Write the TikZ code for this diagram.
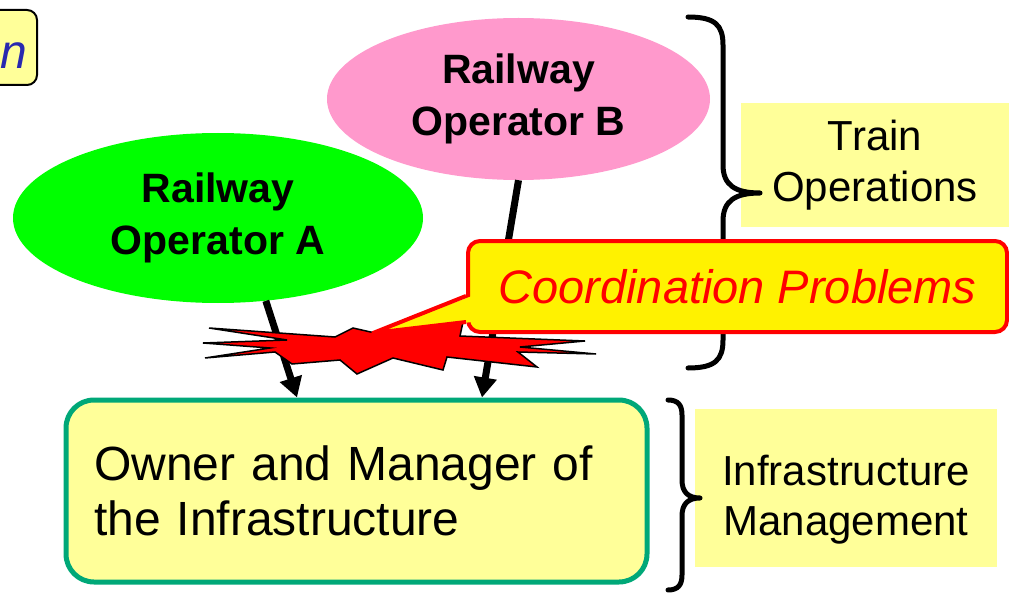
\documentclass[tikz,border=0pt]{standalone}
\usepackage{fontspec}
\setmainfont{Liberation Sans}
\usetikzlibrary{shapes.geometric,arrows.meta}
\definecolor{paleyellow}{RGB}{255,255,153}
\definecolor{opgreen}{RGB}{0,255,0}
\definecolor{oppink}{RGB}{255,153,204}
\definecolor{borderteal}{RGB}{0,168,120}
\definecolor{inkblue}{RGB}{40,40,175}
\tikzset{
  operator/.style={ellipse, draw=none, inner sep=0pt, align=center,
    font=\bfseries\fontsize{41}{52}\selectfont},
  feed/.style={line width=7pt, -{Triangle[length=20pt,width=22pt]}},
  bracket/.style={line width=5pt, line cap=round, line join=round},
  areabox/.style={fill=paleyellow, inner sep=0pt, align=center,
    font=\fontsize{42}{51}\selectfont},
}
\begin{document}
\begin{tikzpicture}[x=1pt, y=-1pt]
\useasboundingbox (0,0) rectangle (1009,596);

% box cut by the left margin
\draw[line width=2pt, fill=paleyellow, rounded corners=10pt] (-30,10) rectangle (37,85);
\node[font=\itshape\fontsize{48}{58}\selectfont, text=inkblue, anchor=base east, inner sep=0pt] (tag) at (27,69) {n};

% the two operators
\node[operator, fill=opgreen, minimum width=410pt, minimum height=170pt] (opA) at (218,218) {Railway\\Operator A};
\node[operator, fill=oppink, minimum width=383pt, minimum height=162pt] (opB) at (518.5,99) {Railway\\Operator B};

% infrastructure manager
\node[fill=paleyellow, draw=borderteal, line width=5pt, rounded corners=28pt,
      minimum width=581pt, minimum height=182pt, inner xsep=27pt, text width=525pt,
      align=left, font=\fontsize{48}{55}\selectfont] (owner) at (356.5,491)
      {Owner and Manager of\\the Infrastructure};

% access of both operators to the network
\draw[feed] (opA.-60) -- (297,0 |- owner.north);
\draw[feed] (opB.south) -- (482,0 |- owner.north);

% area labels
\node[areabox, minimum width=268pt, minimum height=124pt] (train) at (875,165) {Train\\Operations};
\node[areabox, minimum width=302pt, minimum height=158pt] (infra) at (846,488) {};
\node[font=\fontsize{42}{50}\selectfont, align=center, inner sep=0pt] (infratext) at ([yshift=-12pt]infra.center) {Infrastructure\\Management};

% braces
\draw[bracket] (688,17) .. controls (715,17) and (723,25) .. (723,45) -- (723,165)
  .. controls (723,185) and (735,193) .. (760,193)
  .. controls (735,193) and (723,201) .. (723,221) -- (723,340)
  .. controls (723,360) and (715,368) .. (688,368);
\draw[bracket] (668,400) .. controls (678,400) and (682,405) .. (682,415) -- (682,480)
  .. controls (682,492) and (688,498) .. (700,498)
  .. controls (688,498) and (682,504) .. (682,516) -- (682,575)
  .. controls (682,585) and (678,590) .. (668,590);

% conflict burst
\draw[fill=red, line width=1.5pt, line join=miter]
  (209,328) -- (335,337) -- (353,328) -- (375,333) -- (463,322) -- (460,336)
  -- (585,341) -- (520,347) -- (596,354) -- (518,352) -- (537,367) -- (447,357)
  -- (443,370) -- (393,358) -- (357,374) -- (340,360) -- (292,364) -- (275,352)
  -- (205,358) -- (270,348) -- (203,343) -- (287,340) -- cycle;

% callout
\node[fill=yellow, draw=red, line width=4pt, rounded corners=12pt, minimum width=539pt,
      minimum height=91pt, inner sep=0pt, text=red,
      font=\itshape\fontsize{47}{56}\selectfont] (coord) at (737.5,286.5) {Coordination Problems};
\coordinate (hit) at (373,333);
\fill[yellow] (hit) -- (472,296) -- (472,322) -- cycle;
\draw[red, line width=4pt, line join=round] (coord.west |- 0,296) -- (hit) -- (coord.west |- 0,322);
\end{tikzpicture}
\end{document}
